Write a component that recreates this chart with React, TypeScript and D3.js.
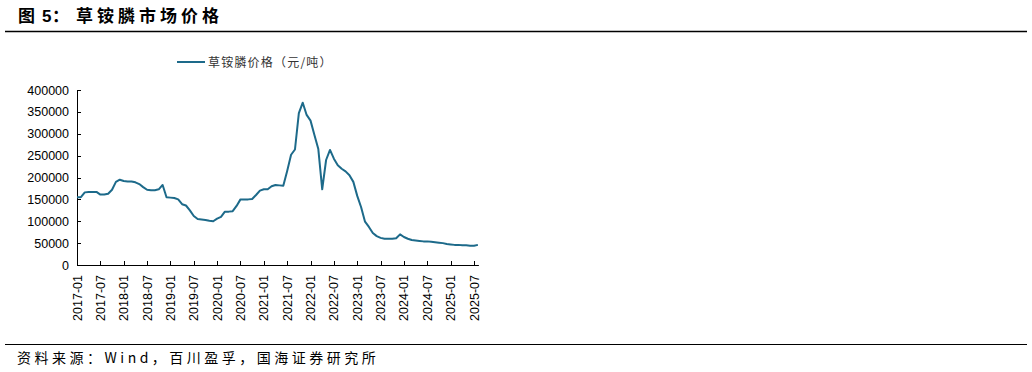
import React from "react";
import * as d3 from "d3";

const startYear = 2017;
const prices: number[] = [
  155000, 155000, 166000, 167000, 167000, 167000, 161000, 161000, 163000, 172000,
  190000, 195000, 192000, 191000, 191000, 189000, 185000, 178000, 172000, 171000,
  171000, 173000, 183000, 155000, 154000, 153000, 150000, 139000, 136000, 125000,
  112000, 105000, 104000, 103000, 101000, 100000, 106000, 110000, 122000, 122000,
  123000, 135000, 150000, 150000, 150000, 151000, 160000, 170000, 173000, 173000,
  180000, 183000, 182000, 181000, 215000, 252000, 264000, 347000, 371000, 343000,
  330000, 297000, 265000, 173000, 240000, 263000, 243000, 228000, 220000, 214000,
  205000, 190000, 158000, 132000, 99000, 87000, 73000, 66000, 62000, 60000,
  60000, 60000, 61000, 70000, 64000, 60000, 57000, 56000, 55000, 54000,
  54000, 53000, 52000, 51000, 50000, 48000, 47000, 46000, 46000, 45000,
  45000, 44000, 44000, 46000,
];
const yTicks: number[] = [0, 50000, 100000, 150000, 200000, 250000, 300000, 350000, 400000];
const xTickLabels: string[] = [
  "2017-01", "2017-07", "2018-01", "2018-07", "2019-01", "2019-07", "2020-01", "2020-07",
  "2021-01", "2021-07", "2022-01", "2022-07", "2023-01", "2023-07", "2024-01", "2024-07",
  "2025-01", "2025-07",
];
const titleFig = "图";
const titleMain = "草铵膦市场价格";
const legendLabel = "草铵膦价格（元/吨）";
const source = "资料来源：Wind，百川盈孚，国海证券研究所";

const toMonthIndex = (s: string) => {
  const [y, m] = s.split("-").map(Number);
  return (y - startYear) * 12 + (m - 1);
};

export default function App() {
  const W = 1032;
  const H = 372;
  const left = 77;
  const x = d3.scaleLinear().domain([0, 102]).range([left, 474]);
  const y = d3.scaleLinear().domain([0, 400000]).range([265, 90]);
  const line = d3
    .line<number>()
    .x((_, i) => x(i))
    .y((d) => y(d))
    .curve(d3.curveLinear);
  const color = "#1d6a8a";
  const numFont = "'Liberation Sans', Arial, sans-serif";
  const cjkFont = "'Noto Sans CJK SC', 'Liberation Sans', sans-serif";
  const xEnd = x(prices.length - 1) + 1;

  return (
    <svg
      width={W}
      height={H}
      style={{ position: "absolute", left: 0, top: 0, background: "#fff" }}
    >
      <text y={21.5} fontFamily={cjkFont} fontWeight="bold" fontSize={17} fill="#000">
        <tspan x={18}>{titleFig}</tspan>
        <tspan x={42} fontFamily={numFont}>5</tspan>
        <tspan x={52}>：</tspan>
        <tspan x={76} letterSpacing={4}>{titleMain}</tspan>
      </text>
      <line x1={5} x2={1027} y1={31.5} y2={31.5} stroke="#000" strokeWidth={1.3} />

      {/* legend */}
      <line x1={177} x2={205} y1={62} y2={62} stroke={color} strokeWidth={2} />
      <text x={208} y={66.5} fontFamily={cjkFont} fontSize={12} letterSpacing={1.2} fill="#333">
        {legendLabel}
      </text>

      {/* y axis */}
      <line x1={left + 0.5} x2={left + 0.5} y1={y(400000)} y2={y(0)} stroke="#000" strokeWidth={1} />
      {yTicks.map((t) => (
        <g key={t}>
          <line x1={left} x2={left + 4} y1={Math.round(y(t)) + 0.5} y2={Math.round(y(t)) + 0.5} stroke="#000" />
          <text
            x={69}
            y={y(t) + 4.5}
            textAnchor="end"
            fontFamily={numFont}
            fontSize={12.5}
            fill="#000"
          >
            {t}
          </text>
        </g>
      ))}

      {/* x axis */}
      <line x1={left} x2={xEnd} y1={265.5} y2={265.5} stroke="#000" strokeWidth={1} />
      {xTickLabels.map((lab) => {
        const xi = x(toMonthIndex(lab));
        return (
          <g key={lab}>
            <line x1={Math.round(xi) + 0.5} x2={Math.round(xi) + 0.5} y1={261} y2={265} stroke="#000" />
            <text
              transform={`translate(${xi + 4.5},${275}) rotate(-90)`}
              textAnchor="end"
              fontFamily={numFont}
              fontSize={12.5}
              fill="#000"
            >
              {lab}
            </text>
          </g>
        );
      })}

      {/* series */}
      <path d={line(prices) || ""} fill="none" stroke={color} strokeWidth={2} strokeLinejoin="round" />

      {/* footer */}
      <line x1={5} x2={1027} y1={344.5} y2={344.5} stroke="#000" strokeWidth={1.2} />
      <text x={17} y={363} fontFamily={cjkFont} fontSize={14} letterSpacing={3.5} fill="#000">
        {source}
      </text>
    </svg>
  );
}
